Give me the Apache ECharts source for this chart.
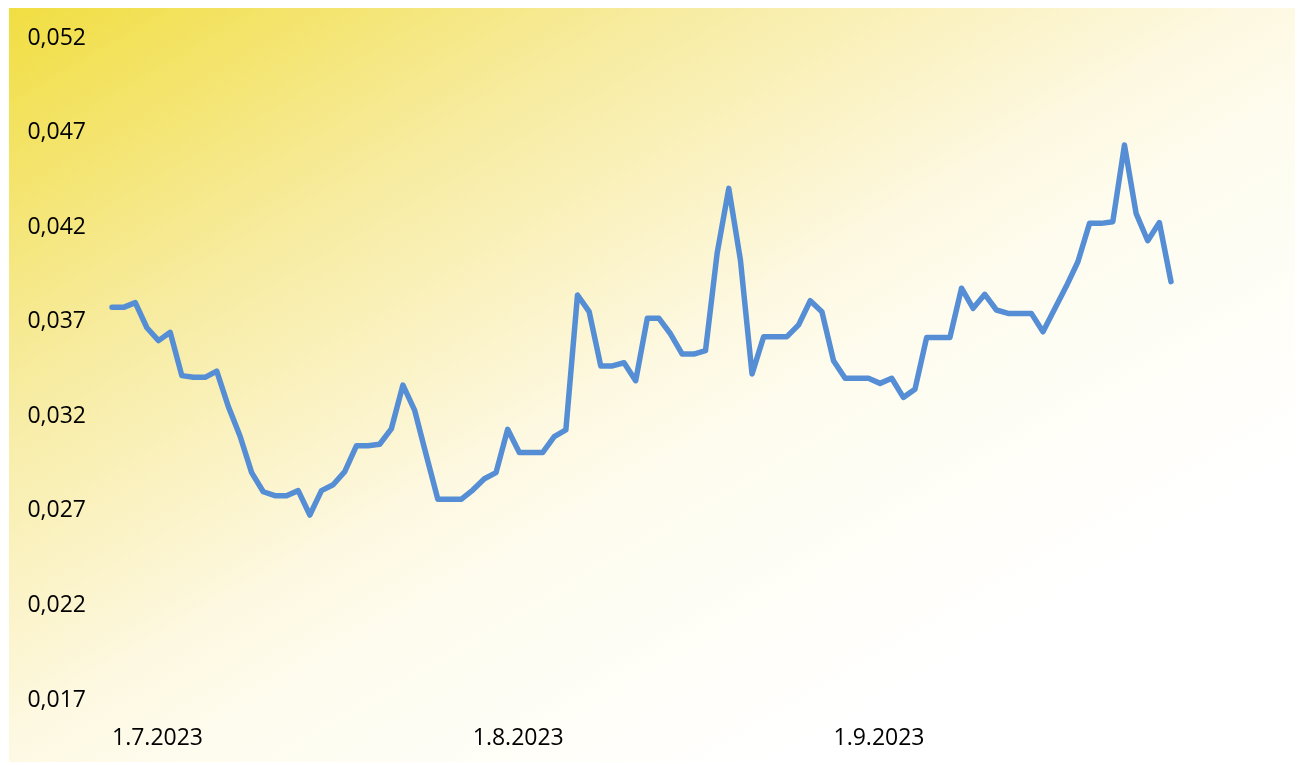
<!DOCTYPE html>
<html>
<head>
<meta charset="utf-8">
<script src="https://cdn.jsdelivr.net/npm/echarts@6/dist/echarts.min.js"></script>
<style>
  html, body { margin: 0; padding: 0; background: #ffffff; }
  #chart { width: 1297px; height: 765px; }
</style>
</head>
<body>
<div id="chart"></div>
<script>
const dates = [
  '1.7.2023','2.7.2023','3.7.2023','4.7.2023','5.7.2023','6.7.2023','7.7.2023','8.7.2023','9.7.2023','10.7.2023',
  '11.7.2023','12.7.2023','13.7.2023','14.7.2023','15.7.2023','16.7.2023','17.7.2023','18.7.2023','19.7.2023','20.7.2023',
  '21.7.2023','22.7.2023','23.7.2023','24.7.2023','25.7.2023','26.7.2023','27.7.2023','28.7.2023','29.7.2023','30.7.2023',
  '31.7.2023',
  '1.8.2023','2.8.2023','3.8.2023','4.8.2023','5.8.2023','6.8.2023','7.8.2023','8.8.2023','9.8.2023','10.8.2023',
  '11.8.2023','12.8.2023','13.8.2023','14.8.2023','15.8.2023','16.8.2023','17.8.2023','18.8.2023','19.8.2023','20.8.2023',
  '21.8.2023','22.8.2023','23.8.2023','24.8.2023','25.8.2023','26.8.2023','27.8.2023','28.8.2023','29.8.2023','30.8.2023',
  '31.8.2023',
  '1.9.2023','2.9.2023','3.9.2023','4.9.2023','5.9.2023','6.9.2023','7.9.2023','8.9.2023','9.9.2023','10.9.2023',
  '11.9.2023','12.9.2023','13.9.2023','14.9.2023','15.9.2023','16.9.2023','17.9.2023','18.9.2023','19.9.2023','20.9.2023',
  '21.9.2023','22.9.2023','23.9.2023','24.9.2023','25.9.2023','26.9.2023','27.9.2023','28.9.2023','29.9.2023','30.9.2023'
];

const values = [
  0.03776, 0.03776, 0.03801, 0.03668, 0.03600, 0.03644, 0.03415, 0.03406, 0.03406, 0.03439,
  0.03251, 0.03096, 0.02902, 0.02801, 0.02780, 0.02780, 0.02807, 0.02678, 0.02807, 0.02838,
  0.02907, 0.03044, 0.03044, 0.03052, 0.03133, 0.03365, 0.03233, 0.02995, 0.02761, 0.02761,
  0.02761,
  0.02810, 0.02870, 0.02902, 0.03131, 0.03008, 0.03008, 0.03008, 0.03092, 0.03128, 0.03841,
  0.03753, 0.03466, 0.03466, 0.03483, 0.03388, 0.03718, 0.03718, 0.03635, 0.03529, 0.03529,
  0.03547, 0.04062, 0.04405, 0.04026, 0.03424, 0.03621, 0.03621, 0.03621, 0.03683, 0.03811,
  0.03753,
  0.03494, 0.03401, 0.03401, 0.03401, 0.03374, 0.03401, 0.03300, 0.03343, 0.03616, 0.03616,
  0.03616, 0.03877, 0.03771, 0.03845, 0.03762, 0.03744, 0.03744, 0.03744, 0.03647, 0.03767,
  0.03887, 0.04017, 0.04220, 0.04220, 0.04229, 0.04634, 0.04273, 0.04128, 0.04224, 0.03912
];

const xTickLabels = ['1.7.2023', '1.8.2023', '1.9.2023'];
const yTickValues = [0.017, 0.022, 0.027, 0.032, 0.037, 0.042, 0.047, 0.052];

const chart = echarts.init(document.getElementById('chart'), null, { renderer: 'canvas' });

const bgGradient = new echarts.graphic.LinearGradient(0, 0, 0.5116, 1.488, [
  { offset: 0, color: '#F1DE42' },
  { offset: 0.25, color: '#F7EB9E' },
  { offset: 0.48, color: '#FDF8E0' },
  { offset: 0.56, color: '#FEFCEE' },
  { offset: 0.8, color: '#FFFFFF' },
  { offset: 1, color: '#FFFFFF' }
]);

const option = {
  backgroundColor: '#ffffff',
  animation: false,
  graphic: [{
    type: 'rect',
    left: 9,
    top: 8,
    z: -10,
    silent: true,
    shape: { width: 1286, height: 754 },
    style: { fill: bgGradient }
  }],
  grid: { left: 112, right: 126, top: 38, bottom: 65, containLabel: false },
  xAxis: {
    type: 'category',
    data: dates,
    boundaryGap: false,
    axisLine: { show: false },
    axisTick: { show: false },
    splitLine: { show: false },
    axisLabel: {
      interval: function (idx, val) { return xTickLabels.indexOf(val) >= 0; },
      align: 'left',
      margin: 27,
      color: '#000000',
      fontFamily: 'Open Sans',
      fontSize: 23
    }
  },
  yAxis: {
    type: 'value',
    min: 0.017,
    max: 0.052,
    axisLine: { show: false },
    axisTick: { show: false },
    splitLine: { show: false },
    axisLabel: {
      customValues: yTickValues,
      align: 'right',
      margin: 26,
      color: '#000000',
      fontFamily: 'Open Sans',
      fontSize: 23,
      padding: [3, 0, 0, 0],
      formatter: function (v) { return v.toFixed(3).replace('.', ','); }
    }
  },
  series: [{
    type: 'line',
    data: values,
    symbol: 'none',
    smooth: false,
    lineStyle: { color: '#558ED5', width: 5.5, join: 'round', cap: 'round' },
    itemStyle: { color: '#558ED5' }
  }]
};

chart.setOption(option);
</script>
</body>
</html>
